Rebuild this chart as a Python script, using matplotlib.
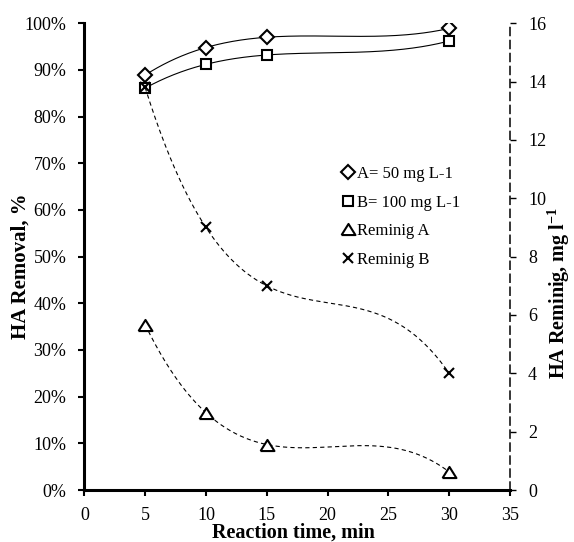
import numpy as np
import matplotlib
matplotlib.use("Agg")
import matplotlib.pyplot as plt

plt.rcParams['font.family'] = ['Liberation Serif', 'DejaVu Serif']
plt.rcParams['mathtext.fontset'] = 'custom'
plt.rcParams['mathtext.rm'] = 'Liberation Serif'
plt.rcParams['mathtext.bf'] = 'Liberation Serif:bold'

# data
time = [5, 10, 15, 30]
removal_a = [88.9, 94.8, 97.0, 98.9]     # %
removal_b = [86.1, 91.2, 93.2, 96.2]     # %
remain_a = [5.67, 2.65, 1.56, 0.62]      # mg l-1
remain_b = [13.8, 9.0, 7.0, 4.0]         # mg l-1


def trend(x, y):
    # 3rd order polynomial trendline over the data range
    c = np.polyfit(x, y, 3)
    xs = np.linspace(min(x), max(x), 300)
    return xs, np.polyval(c, xs)


fig = plt.figure(figsize=(5.74, 5.42), dpi=100)
ax = fig.add_axes([0.1469, 0.0959, 0.7416, 0.8612])
ax2 = ax.twinx()

ax.plot(*trend(time, removal_a), color='black', lw=0.8)
ax.plot(*trend(time, removal_b), color='black', lw=0.8)
ax2.plot(*trend(time, remain_a), color='black', lw=0.8, ls=(0, (3.8, 2.9)))
ax2.plot(*trend(time, remain_b), color='black', lw=0.8, ls=(0, (3.8, 2.9)))

tri = [(-1, -0.8), (1, -0.8), (0, 0.8), (-1, -0.8)]
mk = dict(ls='none', mfc='white', mec='black', mew=1.5, color='black')
h1, = ax.plot(time, removal_a, marker='D', ms=7, label='A= 50 mg L-1', **mk)
h2, = ax.plot(time, removal_b, marker='s', ms=7.5, label='B= 100 mg L-1', **mk)
h3, = ax2.plot(time, remain_a, marker=tri, ms=10, label='Reminig A', **mk)
h4, = ax2.plot(time, remain_b, marker='x', ms=7.5, label='Reminig B', **mk)

ax.set_xlim(0, 35)
ax.set_ylim(0, 100)
ax2.set_ylim(0, 16)
ax.set_xticks(range(0, 36, 5))
ax.set_yticks(range(0, 101, 10))
ax.set_yticklabels([f'{v}%' for v in range(0, 101, 10)])
ax2.set_yticks(range(0, 17, 2))

ax.tick_params(labelsize=13, direction='out', width=1.5, length=4, pad=9)
ax.tick_params(axis='x', pad=8)
ax2.tick_params(labelsize=13, direction='out', width=1.0, length=4, pad=9)
for a in (ax, ax2):
    a.spines['top'].set_visible(False)
ax.spines['left'].set_linewidth(2.2)
ax.spines['bottom'].set_linewidth(2.2)
ax.spines['right'].set_visible(False)
ax2.spines['left'].set_visible(False)
ax2.spines['bottom'].set_visible(False)
ax2.spines['right'].set_linewidth(1.1)
ax2.spines['right'].set_linestyle((0, (5.2, 3.3)))

fig.text(293 / 574, 1 - 538 / 542, 'Reaction time, min', fontsize=14.5, fontweight='bold',
         ha='center', va='baseline')
fig.text(20.7 / 574, 1 - 266 / 542, 'HA Removal, %', fontsize=15, fontweight='bold',
         rotation=90, ha='center', va='center')
fig.text(559 / 574, 1 - 293 / 542, r'HA Reminig, mg l$^{\mathbf{-1}}$', fontsize=14.5,
         fontweight='bold', rotation=90, ha='center', va='center')

ax.legend(handles=[h1, h2, h3, h4], loc='upper left', bbox_to_anchor=(0.591, 0.708),
          frameon=False, fontsize=12, handlelength=0.6, handletextpad=0.25,
          labelspacing=0.75, borderaxespad=0)

fig.savefig('out.png', dpi=100)
